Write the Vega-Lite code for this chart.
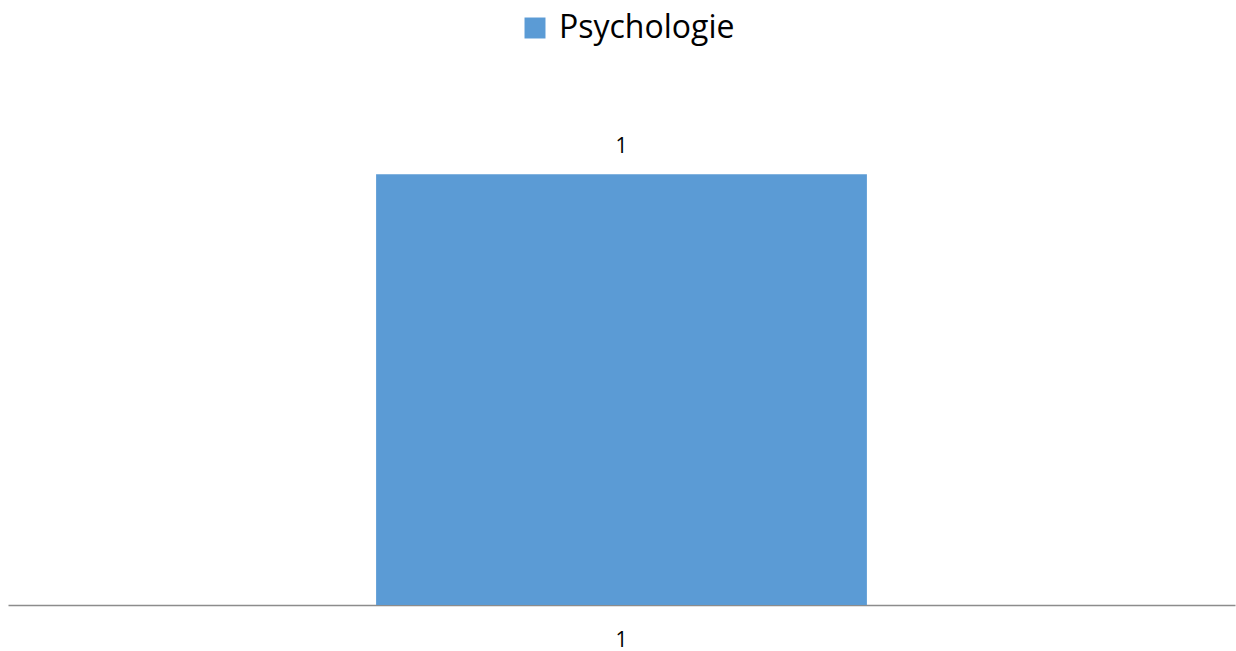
{
  "$schema": "https://vega.github.io/schema/vega-lite/v6.json",
  "autosize": "none",
  "width": 1227,
  "height": 517,
  "padding": {"left": 8, "top": 88, "right": 1, "bottom": 46},
  "background": "white",
  "config": {"view": {"stroke": null}, "font": "Open Sans"},
  "data": {"values": [{"category": "1", "series": "Psychologie", "value": 1}]},
  "layer": [
    {
      "mark": {"type": "bar", "color": "#5B9BD5"},
      "encoding": {
        "x": {
          "field": "category", "type": "nominal",
          "scale": {"paddingInner": 0, "paddingOuter": 0.75},
          "axis": {"title": null, "labelAngle": 0, "labelFontSize": 21, "labelColor": "#000000", "labelPadding": 24, "ticks": false, "domainColor": "#8c8c8c", "domainWidth": 1.5, "grid": false}
        },
        "y": {
          "field": "value", "type": "quantitative",
          "scale": {"domain": [0, 1.2]},
          "axis": null
        },
        "color": {
          "field": "series", "type": "nominal",
          "scale": {"range": ["#5B9BD5"]},
          "legend": {"title": null, "orient": "none", "legendX": 511, "legendY": -76, "labelFontSize": 32, "labelColor": "#000000", "symbolType": "square", "symbolSize": 440, "symbolStrokeWidth": 0, "labelOffset": 8, "labelLimit": 400}
        }
      }
    },
    {
      "mark": {"type": "text", "fontSize": 21, "dy": -27, "color": "#000000"},
      "encoding": {
        "x": {"field": "category", "type": "nominal"},
        "y": {"field": "value", "type": "quantitative"},
        "text": {"field": "value", "type": "quantitative"}
      }
    }
  ]
}
